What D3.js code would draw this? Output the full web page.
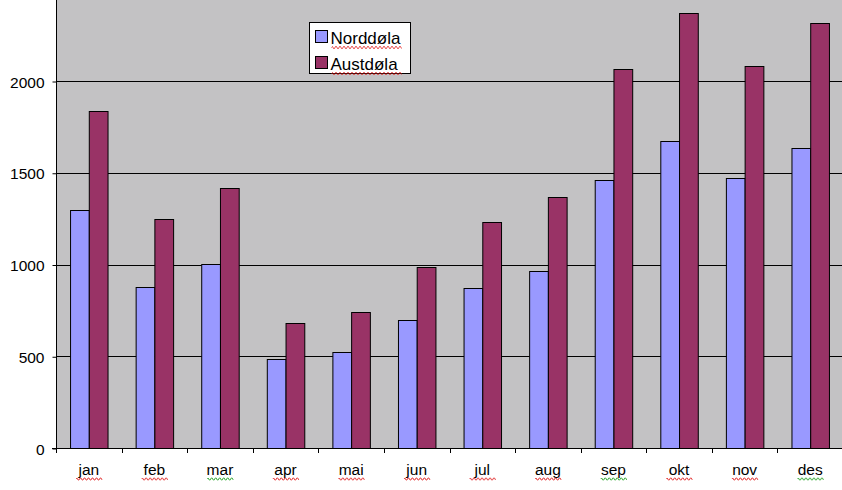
<!DOCTYPE html>
<html>
<head>
<meta charset="utf-8">
<script src="https://cdn.jsdelivr.net/npm/d3@7"></script>
<style>
  body { margin: 0; background: #fff; }
  svg { display: block; font-family: "Liberation Sans", Arial, sans-serif; }
</style>
</head>
<body>
<div id="chart"></div>
<script>
// months along the bottom
var months = ["jan", "feb", "mar", "apr", "mai", "jun", "jul", "aug", "sep", "okt", "nov", "des"];
var norddola = [1298, 876, 1001, 483, 521, 696, 870, 963, 1459, 1671, 1470, 1633];
var austdola = [1835, 1246, 1419, 683, 739, 985, 1230, 1366, 2064, 2369, 2080, 2314];
var seriesNames = ["Norddøla", "Austdøla"];
var yTicks = [0, 500, 1000, 1500, 2000];
// spell checker squiggles under the month labels (r = red, g = green)
var squiggle = ["r", "r", "g", "r", "r", "r", "r", "r", "g", "r", "r", "g"];

var width = 842, height = 490;
var colors = ["#9999ff", "#993366"];

var svg = d3.select("#chart")
  .append("svg")
  .attr("width", width)
  .attr("height", height);

var x0 = d3.scaleBand()
  .domain(months)
  .range([56, 843])
  .paddingInner(0.4286)
  .paddingOuter(0.2143);
// plain band with no padding, used for the ticks between months
var xCat = d3.scaleBand().domain(months).range([56, 843]);

var x1 = d3.scaleBand()
  .domain([0, 1])
  .range([0, x0.bandwidth()]);

var y = d3.scaleLinear()
  .domain([0, 2500])
  .range([448, -10.75]);

// plot background
svg.append("rect")
  .attr("x", 56)
  .attr("y", y(2500))
  .attr("width", 843 - 56)
  .attr("height", 448 - y(2500))
  .attr("fill", "#c3c2c4");

// gridlines
svg.append("g")
  .selectAll("line")
  .data(yTicks.slice(1))
  .enter()
  .append("line")
  .attr("x1", 56)
  .attr("x2", 843)
  .attr("y1", function(d) { return Math.round(y(d)) + 0.5; })
  .attr("y2", function(d) { return Math.round(y(d)) + 0.5; })
  .attr("stroke", "#000")
  .attr("stroke-width", 1);

// bars
var groups = svg.append("g")
  .selectAll("g")
  .data(months)
  .enter()
  .append("g")
  .attr("transform", function(d) { return "translate(" + x0(d) + ",0)"; });

groups.selectAll("rect")
  .data(function(d, i) { return [norddola[i], austdola[i]]; })
  .enter()
  .append("rect")
  .attr("x", function(d, j) { return x1(j) + 0.5; })
  .attr("y", function(d) { return Math.round(y(d)) + 0.5; })
  .attr("width", x1.bandwidth())
  .attr("height", function(d) { return 448 - Math.round(y(d)); })
  .attr("fill", function(d, j) { return colors[j]; })
  .attr("stroke", "#000")
  .attr("stroke-width", 1);

// y axis
var yAxis = d3.axisLeft(y)
  .tickValues(yTicks)
  .tickFormat(d3.format("d"))
  .tickSize(4)
  .tickPadding(8);

var yG = svg.append("g")
  .attr("transform", "translate(56.5,0.5)")
  .call(yAxis);
yG.select(".domain").attr("d", "M0," + y(2500) + "V448");
yG.selectAll("line").attr("stroke", "#000");
yG.selectAll("text")
  .attr("font-size", 15.5)
  .attr("font-family", "Liberation Sans, Arial, sans-serif")
  .attr("fill", "#000")
  .attr("dy", "0.36em");

// x axis line + ticks between months
var xG = svg.append("g");
xG.append("line")
  .attr("x1", 52)
  .attr("x2", 843)
  .attr("y1", 448.5)
  .attr("y2", 448.5)
  .attr("stroke", "#000");
xG.selectAll(".xtick")
  .data(months)
  .enter()
  .append("line")
  .attr("class", "xtick")
  .attr("x1", function(d) { return Math.round(xCat(d)) + 0.5; })
  .attr("x2", function(d) { return Math.round(xCat(d)) + 0.5; })
  .attr("y1", 448)
  .attr("y2", 453)
  .attr("stroke", "#000");

// month labels
var labels = xG.selectAll(".mlabel")
  .data(months)
  .enter()
  .append("g")
  .attr("class", "mlabel")
  .attr("transform", function(d) {
    return "translate(" + (xCat(d) + xCat.bandwidth() / 2) + ",475)";
  });

labels.append("text")
  .attr("text-anchor", "middle")
  .attr("font-size", 15.5)
  .attr("fill", "#000")
  .text(function(d) { return d; });

function wave(w) {
  var p = "M" + (-w / 2) + ",4";
  for (var k = 0; k < w; k += 2) {
    p += "L" + (-w / 2 + k + 1) + "," + (k % 4 === 0 ? 3 : 5) + "L" + (-w / 2 + k + 2) + "," + (k % 4 === 0 ? 5 : 3);
  }
  return p;
}

labels.append("path")
  .attr("d", function(d) { return wave(d.length * 8.5); })
  .attr("fill", "none")
  .attr("stroke", function(d, i) { return squiggle[i] === "g" ? "#20a020" : "#e02020"; })
  .attr("stroke-width", 0.8);

// legend
var legend = svg.append("g").attr("transform", "translate(309.5,22.5)");
legend.append("rect")
  .attr("width", 101)
  .attr("height", 51)
  .attr("fill", "#fff")
  .attr("stroke", "#000");

var items = legend.selectAll(".item")
  .data(seriesNames)
  .enter()
  .append("g")
  .attr("class", "item")
  .attr("transform", function(d, i) { return "translate(0," + (i * 26) + ")"; });

items.append("rect")
  .attr("x", 6)
  .attr("y", 8)
  .attr("width", 12)
  .attr("height", 12)
  .attr("fill", function(d, i) { return colors[i]; })
  .attr("stroke", "#000");

items.append("text")
  .attr("x", 21)
  .attr("y", 21)
  .attr("font-size", 17)
  .attr("fill", "#000")
  .text(function(d) { return d; });

items.append("path")
  .attr("transform", "translate(57,21)")
  .attr("d", function(d) { return wave(70); })
  .attr("fill", "none")
  .attr("stroke", "#e02020")
  .attr("stroke-width", 0.8);
</script>
</body>
</html>
